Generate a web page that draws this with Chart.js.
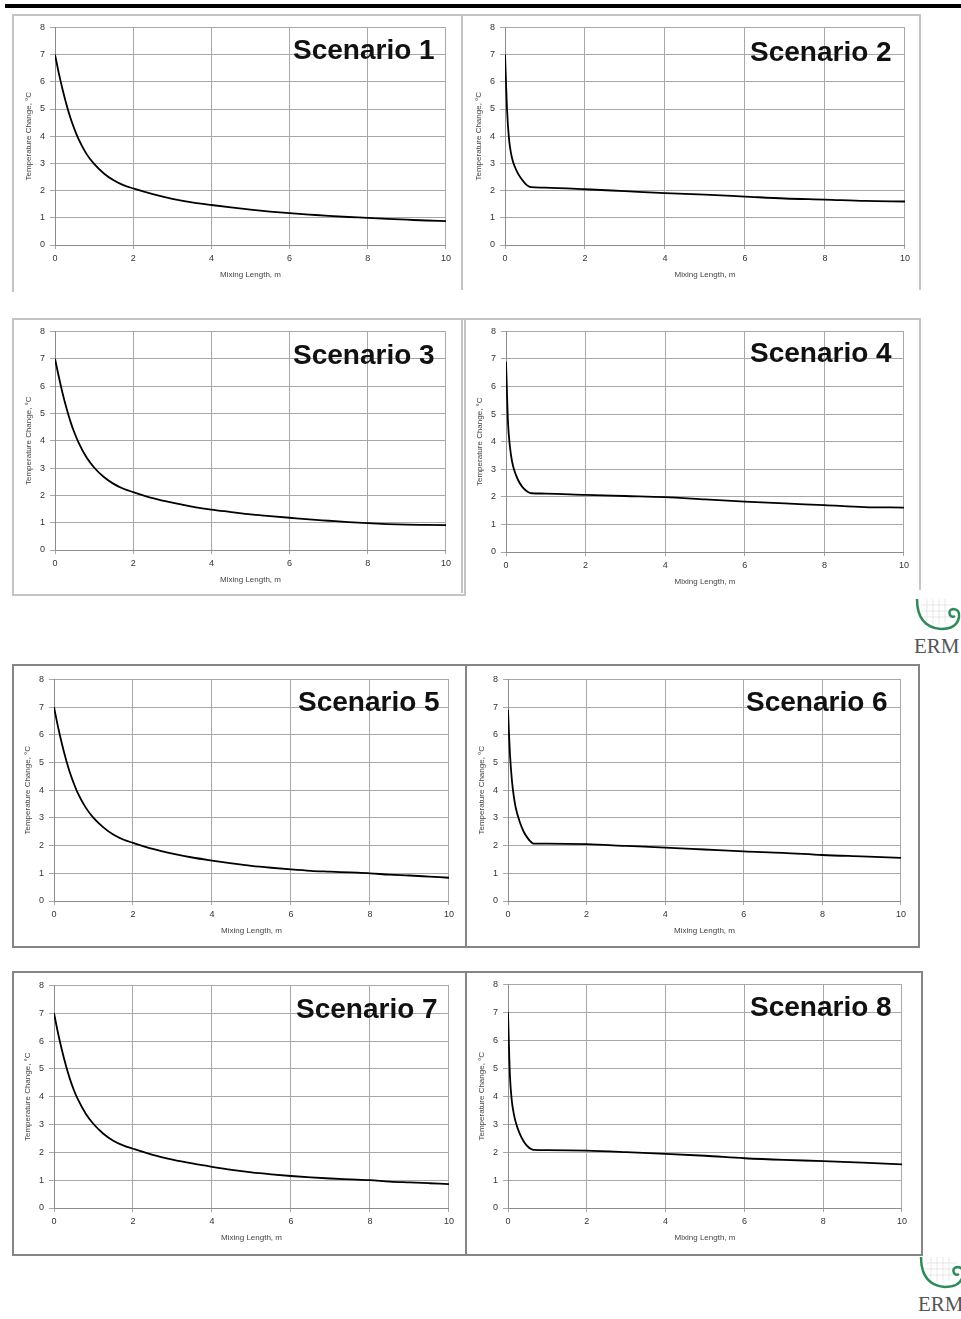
<!DOCTYPE html>
<html><head><meta charset="utf-8">
<script src="https://cdn.jsdelivr.net/npm/chart.js@4.4.1/dist/chart.umd.min.js"></script>
<style>
html,body{margin:0;padding:0;background:#fff;}
body{width:961px;height:1319px;position:relative;overflow:hidden;font-family:"Liberation Sans",Arial,sans-serif;}
canvas{position:absolute;}
.ttl{position:absolute;font:bold 28px "Liberation Sans",Arial,sans-serif;color:#111;line-height:28px;white-space:nowrap;}
.ln{position:absolute;}
.logo{position:absolute;}
</style></head><body>
<script>
// ---- data ----
const xTicks = [0, 2, 4, 6, 8, 10];
const yTicks = [0, 1, 2, 3, 4, 5, 6, 7, 8];
const yTitle = "Temperature Change, °C";
const xTitle = "Mixing Length, m";
const scenarioNames = ["Scenario 1","Scenario 2","Scenario 3","Scenario 4","Scenario 5","Scenario 6","Scenario 7","Scenario 8"];

const xSteep = [0,0.1,0.2,0.3,0.4,0.5,0.6,0.8,1,1.25,1.5,1.75,2,2.5,3,3.5,4,4.5,5,5.5,6,6.5,7,7.5,8,8.5,9,9.5,10];
const scenario1 = [7.0,6.3,5.68,5.13,4.65,4.25,3.9,3.36,2.98,2.63,2.38,2.2,2.08,1.87,1.7,1.57,1.47,1.38,1.3,1.23,1.17,1.12,1.07,1.03,1.0,0.96,0.93,0.9,0.88];
const scenario3 = [7.0,6.32,5.7,5.16,4.68,4.28,3.94,3.4,3.02,2.67,2.42,2.24,2.12,1.9,1.73,1.59,1.48,1.39,1.3,1.24,1.18,1.12,1.07,1.02,0.98,0.95,0.93,0.92,0.91];
const scenario5 = [7.0,6.3,5.68,5.13,4.65,4.25,3.9,3.38,3.0,2.66,2.4,2.22,2.1,1.88,1.71,1.57,1.46,1.36,1.27,1.2,1.14,1.09,1.06,1.03,1.0,0.95,0.92,0.88,0.84];
const scenario7 = [7.0,6.3,5.68,5.13,4.65,4.25,3.92,3.4,3.02,2.67,2.42,2.25,2.13,1.91,1.74,1.6,1.48,1.37,1.28,1.21,1.15,1.1,1.06,1.03,1.0,0.95,0.92,0.89,0.86];

const xFlat = [0,0.02,0.05,0.1,0.15,0.2,0.3,0.4,0.5,0.6,0.65,1,2,3,4,5,6,7,8,9,10];
const scenario2 = [7.0,6.2,5.0,3.9,3.38,3.06,2.7,2.45,2.27,2.15,2.13,2.11,2.05,1.98,1.91,1.85,1.78,1.71,1.67,1.62,1.6];
const scenario4 = [6.9,6.0,4.7,3.8,3.3,3.0,2.62,2.38,2.23,2.14,2.13,2.12,2.07,2.03,1.99,1.91,1.83,1.76,1.7,1.63,1.61];
const scenario6 = [6.9,6.2,5.3,4.35,3.75,3.35,2.85,2.5,2.27,2.11,2.07,2.07,2.05,1.99,1.93,1.86,1.79,1.74,1.66,1.61,1.56];
const scenario8 = [7.0,6.0,4.7,3.8,3.35,3.05,2.65,2.38,2.2,2.1,2.08,2.07,2.05,2.0,1.94,1.87,1.78,1.72,1.68,1.62,1.56];

// ---- layout (page pixels) ----
const panels = [
  {name: scenarioNames[0], xs: xSteep, ys: scenario1, plot: [55, 25, 447, 245],  title: [293, 36]},
  {name: scenarioNames[1], xs: xFlat,  ys: scenario2, plot: [505, 25, 906, 245], title: [750, 38]},
  {name: scenarioNames[2], xs: xSteep, ys: scenario3, plot: [55, 329, 447, 550], title: [293, 341]},
  {name: scenarioNames[3], xs: xFlat,  ys: scenario4, plot: [506, 329, 905, 552],title: [750, 339]},
  {name: scenarioNames[4], xs: xSteep, ys: scenario5, plot: [54, 677, 450, 901], title: [298, 688]},
  {name: scenarioNames[5], xs: xFlat,  ys: scenario6, plot: [508, 677, 902, 901],title: [746, 688]},
  {name: scenarioNames[6], xs: xSteep, ys: scenario7, plot: [54, 983, 450, 1208],title: [296, 995]},
  {name: scenarioNames[7], xs: xFlat,  ys: scenario8, plot: [508, 982, 903, 1208],title: [750, 993]}
];

// frame lines: [x, y, w, h, color]
const frames = [
  [5, 4, 956, 4, '#000'],
  [12, 14, 909, 2, '#c4c4c4'], [12, 14, 2, 278, '#c4c4c4'], [461, 14, 2, 276, '#c4c4c4'], [919, 14, 2, 276, '#c4c4c4'],
  [12, 318, 454, 2, '#c4c4c4'], [12, 318, 2, 278, '#c4c4c4'], [12, 594, 454, 2, '#c4c4c4'], [464, 318, 2, 278, '#c4c4c4'],
  [462, 318, 459, 2, '#c4c4c4'], [461, 318, 2, 275, '#c4c4c4'], [919, 318, 2, 272, '#c4c4c4'],
  [12, 664, 908, 2, '#858585'], [12, 946, 908, 2, '#858585'], [12, 664, 2, 284, '#858585'], [918, 664, 2, 284, '#858585'], [465, 664, 2, 284, '#858585'],
  [12, 971, 911, 2, '#858585'], [12, 1254, 911, 2, '#858585'], [12, 971, 2, 285, '#858585'], [921, 971, 2, 285, '#858585'], [465, 971, 2, 285, '#858585']
];

frames.forEach(f => {
  const d = document.createElement('div');
  d.className = 'ln';
  d.style.cssText = `left:${f[0]}px;top:${f[1]}px;width:${f[2]}px;height:${f[3]}px;background:${f[4]};`;
  document.body.appendChild(d);
});

const FAM = '"Liberation Sans", Arial, sans-serif';
const YW = 32, PT = 8, PR = 8, XH = 36;

panels.forEach(p => {
  const [l, t, r, b] = p.plot;
  const w = (r - l) + YW + PR, h = (b - t) + PT + XH;
  const c = document.createElement('canvas');
  c.width = w; c.height = h;
  c.style.left = (l - YW) + 'px'; c.style.top = (t - PT) + 'px';
  c.style.width = w + 'px'; c.style.height = h + 'px';
  document.body.appendChild(c);
  new Chart(c, {
    type: 'line',
    data: {
      datasets: [{
        data: p.xs.map((x, i) => ({x: x, y: p.ys[i]})),
        borderColor: '#000', borderWidth: 1.8, pointRadius: 0,
        cubicInterpolationMode: 'monotone', fill: false
      }]
    },
    options: {
      responsive: false, animation: false, devicePixelRatio: 1,
      layout: {padding: {top: PT, right: PR, left: 0, bottom: 0}},
      plugins: {legend: {display: false}, tooltip: {enabled: false}},
      scales: {
        x: {
          type: 'linear', min: 0, max: 10,
          afterBuildTicks: s => { s.ticks = xTicks.map(v => ({value: v})); },
          afterFit: s => { s.height = XH; },
          grid: {color: '#a8a8a8', lineWidth: 1, tickLength: 4},
          border: {color: '#8c8c8c'},
          ticks: {padding: 4, color: '#333', font: {size: 9, family: FAM}, maxRotation: 0, autoSkip: false},
          title: {display: true, text: xTitle, color: '#444', font: {size: 8, family: FAM}, padding: {top: 0, bottom: 1}}
        },
        y: {
          type: 'linear', min: 0, max: 8,
          afterBuildTicks: s => { s.ticks = yTicks.map(v => ({value: v})); },
          afterFit: s => { s.width = YW; },
          grid: {color: '#a8a8a8', lineWidth: 1, tickLength: 5},
          border: {color: '#8c8c8c'},
          ticks: {padding: 5, color: '#333', font: {size: 9, family: FAM}, autoSkip: false},
          title: {display: true, text: yTitle, color: '#444', font: {size: 8, family: FAM}, padding: {top: 1, bottom: 0}}
        }
      }
    }
  });
  const tt = document.createElement('div');
  tt.className = 'ttl';
  tt.textContent = p.name;
  tt.style.left = p.title[0] + 'px';
  tt.style.top = p.title[1] + 'px';
  document.body.appendChild(tt);
});

// ERM logos
function logo(x, y) {
  const d = document.createElement('div');
  d.className = 'logo';
  d.style.left = x + 'px'; d.style.top = y + 'px';
  d.innerHTML = `<svg width="50" height="60" xmlns="http://www.w3.org/2000/svg">
    <g stroke="#d8d8d8" stroke-width="0.6">
      <line x1="14" y1="2" x2="14" y2="26"/><line x1="20" y1="2" x2="20" y2="28"/><line x1="26" y1="2" x2="26" y2="28"/><line x1="32" y1="2" x2="32" y2="26"/>
      <line x1="8" y1="8" x2="40" y2="8"/><line x1="8" y1="14" x2="40" y2="14"/><line x1="8" y1="20" x2="40" y2="20"/>
    </g>
    <path d="M4 2 Q4 30 28 32 Q44 32 46 20 Q47 12 40 12 Q35 13 37 18 Q39 21 42 19" fill="none" stroke="#2f8a5a" stroke-width="2.5"/>
    <text x="1" y="56" font-family="Liberation Serif, serif" font-size="21" fill="#555">ERM</text>
  </svg>`;
  document.body.appendChild(d);
}
logo(913, 597);
logo(917, 1255);
</script>
</body></html>
